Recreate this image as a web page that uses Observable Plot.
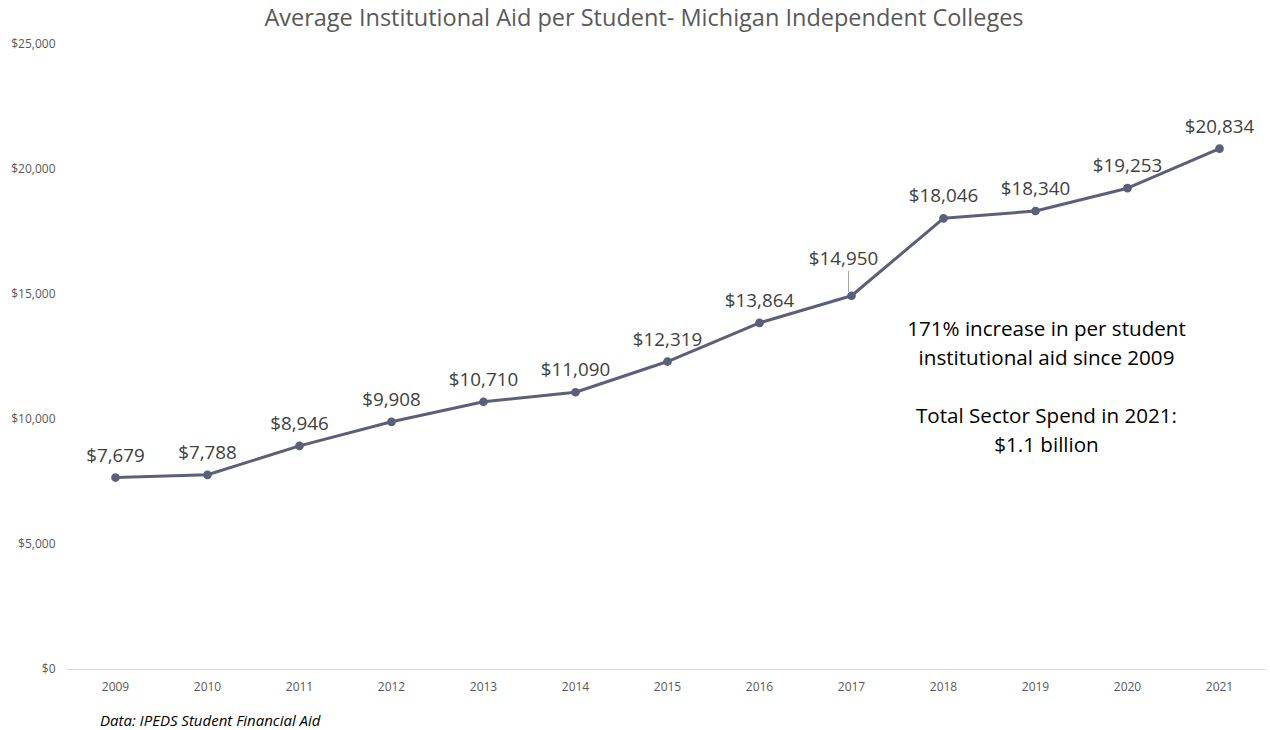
<!DOCTYPE html>
<html>
<head>
<meta charset="utf-8">
<script src="https://cdn.jsdelivr.net/npm/d3@7"></script>
<script src="https://cdn.jsdelivr.net/npm/@observablehq/plot@0.6"></script>
<style>
  html, body { margin: 0; padding: 0; background: #fff; }
  body { width: 1270px; height: 730px; overflow: hidden; font-family: "Open Sans", sans-serif; }
  #title { height: 34px; line-height: 34px; text-align: center; font-size: 23.5px; color: #595959; padding-left: 18px; }
  #caption { height: 31px; line-height: 42px; padding-left: 100px; font-size: 15px; font-style: italic; color: #000; }
  #chart svg { display: block; overflow: visible; }
</style>
</head>
<body>
<div id="title">Average Institutional Aid per Student- Michigan Independent Colleges</div>
<div id="chart"></div>
<div id="caption">Data: IPEDS Student Financial Aid</div>
<script>
const years = ["2009","2010","2011","2012","2013","2014","2015","2016","2017","2018","2019","2020","2021"];
const aid = [7679, 7788, 8946, 9908, 10710, 11090, 12319, 13864, 14950, 18046, 18340, 19253, 20834];
const yTicks = [0, 5000, 10000, 15000, 20000, 25000];
const noteText = "171% increase in per student\ninstitutional aid since 2009\n\nTotal Sector Spend in 2021:\n$1.1 billion";
const noteYear = "2019";
const noteValue = 11380;

const data = years.map((year, i) => ({year, aid: aid[i]}));
const money = d => "$" + d3.format(",")(d);
const special = "2017";

const chart = Plot.plot({
  width: 1270,
  height: 665,
  marginLeft: 67,
  marginRight: 4,
  marginTop: 10,
  marginBottom: 30,
  style: {fontFamily: "Open Sans, sans-serif", fontSize: "12px", color: "#595959", background: "#fff"},
  x: {type: "point", domain: years, padding: 0.5, label: null},
  y: {domain: [0, 25000], label: null},
  marks: [
    Plot.ruleY([0], {stroke: "#d9d9d9", strokeWidth: 1.2}),
    Plot.axisX({tickSize: 0, tickPadding: 13, fontSize: 12, fill: "#595959", label: null}),
    Plot.axisY({ticks: yTicks, tickSize: 0, tickPadding: 12, tickFormat: money, fontSize: 12, fill: "#595959", label: null}),
    Plot.line(data, {x: "year", y: "aid", stroke: "#5a6079", strokeWidth: 3}),
    Plot.dot(data, {x: "year", y: "aid", r: 3.6, fill: "#5a6079", stroke: "#5a6079"}),
    Plot.link(data.filter(d => d.year === special), {x1: "year", x2: "year", y1: d => d.aid + 150, y2: d => d.aid + 1000, dx: -3, stroke: "#a6a6a6", strokeWidth: 1}),
    Plot.text(data.filter(d => d.year !== special), {x: "year", y: "aid", text: d => money(d.aid), dy: -22, fontSize: 18.8, fill: "#404040"}),
    Plot.text(data.filter(d => d.year === special), {x: "year", y: "aid", text: d => money(d.aid), dy: -37, dx: -8, fontSize: 18.8, fill: "#404040"}),
    Plot.text([noteText], {x: () => noteYear, y: () => noteValue, text: d => d, dx: 11, fontSize: 20.6, lineHeight: 1.41, fill: "#000", textAnchor: "middle"})
  ]
});
document.getElementById("chart").appendChild(chart);
</script>
</body>
</html>
